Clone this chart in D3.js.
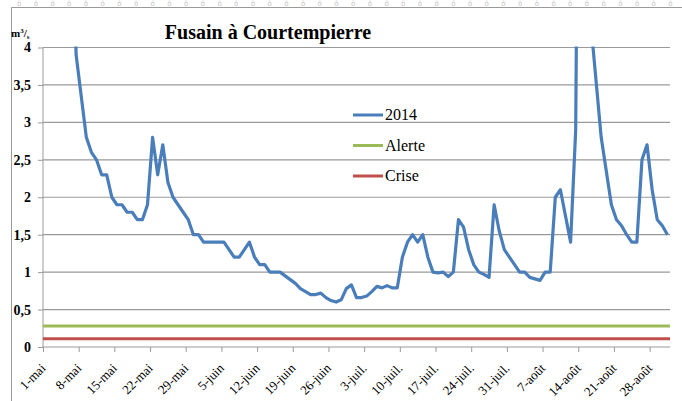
<!DOCTYPE html>
<html>
<head>
<meta charset="utf-8">
<script src="https://cdn.jsdelivr.net/npm/d3@7"></script>
<style>
  body { margin: 0; background: #fff; }
  svg { display: block; font-family: "Liberation Serif", "Times New Roman", serif; }
</style>
</head>
<body>
<svg id="chart" width="682" height="401"></svg>
<script>
// daily flow, 1 May -> 31 Aug 2014 (values above 4 are clipped by the axis)
var flow2014 = [
  8.0, 9.0, 8.5, 7.5, 6.8, 6.0, 3.9, 3.35, 2.8, 2.6,
  2.5, 2.3, 2.3, 2.0, 1.9, 1.9, 1.8, 1.8, 1.7, 1.7,
  1.9, 2.8, 2.3, 2.7, 2.2, 2.0, 1.9, 1.8, 1.7, 1.5,
  1.5, 1.4, 1.4, 1.4, 1.4, 1.4, 1.3, 1.2, 1.2, 1.3,
  1.4, 1.2, 1.1, 1.1, 1.0, 1.0, 1.0, 0.95, 0.9, 0.85,
  0.78, 0.74, 0.7, 0.7, 0.72, 0.66, 0.62, 0.6, 0.63, 0.78,
  0.83, 0.66, 0.66, 0.68, 0.74, 0.81, 0.79, 0.82, 0.79, 0.79,
  1.2, 1.4, 1.5, 1.4, 1.5, 1.2, 1.0, 0.99, 1.0, 0.94,
  1.0, 1.7, 1.6, 1.3, 1.1, 1.0, 0.97, 0.93, 1.9, 1.55,
  1.3, 1.2, 1.1, 1.0, 1.0, 0.93, 0.91, 0.89, 1.0, 1.0,
  2.0, 2.1, 1.75, 1.4, 2.9, 12.0, 9.0, 4.3, 3.55, 2.8,
  2.35, 1.9, 1.7, 1.62, 1.5, 1.4, 1.4, 2.5, 2.7, 2.1,
  1.7, 1.62, 1.5
];
var alerte = 0.28;
var crise = 0.11;
var yTicks = [0, 0.5, 1, 1.5, 2, 2.5, 3, 3.5, 4];
var tickLabels = ["1-mai", "8-mai", "15-mai", "22-mai", "29-mai", "5-juin", "12-juin", "19-juin",
  "26-juin", "3-juil.", "10-juil.", "17-juil.", "24-juil.", "31-juil.", "7-août", "14-août",
  "21-août", "28-août"];
var seriesNames = ["2014", "Alerte", "Crise"];
var seriesColors = ["#4a7ebb", "#9bbb59", "#c0504d"];

(function () {
  var svg = d3.select("#chart");
  var serif = "'Liberation Serif', 'Times New Roman', serif";
  var pLeft = 43, pRight = 670, pTop = 47.5, pBottom = 347;
  var start = new Date(2014, 4, 1);
  var days = flow2014.map(function (v, i) { return d3.timeDay.offset(start, i); });

  var x = d3.scaleTime()
    .domain([start, d3.timeDay.offset(start, flow2014.length)])
    .range([pLeft, pRight]);
  var y = d3.scaleLinear().domain([0, 4]).range([pBottom, pTop]);
  var mid = function (d) { return x(d) + (x(d3.timeDay.offset(d, 1)) - x(d)) / 2; };

  // top strip + frame
  var strip = svg.append("g");
  for (var sx = 17; sx < 682; sx += 16.7) {
    strip.append("text").attr("x", sx).attr("y", 6).attr("font-size", 7)
      .attr("fill", "#c4c4c4").attr("font-family", "DejaVu Sans").text("ô");
  }
  svg.append("path").attr("d", "M11.5,401V7.5H682").attr("fill", "none").attr("stroke", "#9a9a9a");

  // gridlines
  svg.append("g").selectAll("line").data(yTicks.filter(function (t) { return t > 0; }))
    .enter().append("line")
    .attr("x1", pLeft).attr("x2", pRight)
    .attr("y1", function (d) { return y(d); }).attr("y2", function (d) { return y(d); })
    .attr("stroke", "#9a9a9a").attr("stroke-width", 1.2);

  // y axis
  var yAxis = svg.append("g").attr("transform", "translate(" + pLeft + ",0)")
    .call(d3.axisLeft(y).tickValues(yTicks).tickSize(5).tickPadding(7)
      .tickFormat(function (d) { return String(d).replace(".", ","); }));
  yAxis.attr("font-family", serif);
  yAxis.select(".domain").attr("stroke", "#9a9a9a").attr("d", "M0," + pTop + "V" + pBottom);
  yAxis.selectAll(".tick line").attr("stroke", "#9a9a9a");
  yAxis.selectAll("text").attr("font-family", serif).attr("font-size", 14)
    .attr("font-weight", "bold").attr("fill", "#000");

  // x axis
  var xTickDates = tickLabels.map(function (t, i) { return d3.timeDay.offset(start, i * 7); });
  var xAxis = svg.append("g").attr("transform", "translate(0," + pBottom + ")")
    .call(d3.axisBottom(x).tickValues(xTickDates).tickSize(5)
      .tickFormat(function (d, i) { return tickLabels[i]; }));
  xAxis.attr("font-family", serif);
  xAxis.select(".domain").attr("stroke", "#9a9a9a").attr("d", "M" + pLeft + ",0H" + pRight);
  xAxis.selectAll(".tick line").attr("stroke", "#9a9a9a");
  xAxis.selectAll("text")
    .attr("font-family", serif).attr("font-size", 13).attr("fill", "#000")
    .attr("text-anchor", "end").attr("dy", null).attr("y", null)
    .attr("transform", "translate(3,22) rotate(-45)");

  // threshold lines
  svg.append("line").attr("x1", pLeft).attr("x2", pRight).attr("y1", y(alerte)).attr("y2", y(alerte))
    .attr("stroke", seriesColors[1]).attr("stroke-width", 3);
  svg.append("line").attr("x1", pLeft).attr("x2", pRight).attr("y1", y(crise)).attr("y2", y(crise))
    .attr("stroke", seriesColors[2]).attr("stroke-width", 3);

  // flow line, clipped to plot area
  svg.append("clipPath").attr("id", "plot").append("rect")
    .attr("x", pLeft).attr("y", pTop - 1).attr("width", pRight - pLeft).attr("height", pBottom - pTop + 2);
  svg.append("path").datum(flow2014)
    .attr("clip-path", "url(#plot)")
    .attr("fill", "none").attr("stroke", seriesColors[0]).attr("stroke-width", 3.2)
    .attr("stroke-linejoin", "round")
    .attr("d", d3.line().x(function (d, i) { return mid(days[i]); }).y(function (d) { return y(d); }));

  // legend
  var lg = svg.append("g").selectAll("g").data(seriesNames).enter().append("g")
    .attr("transform", function (d, i) { return "translate(353," + (115 + i * 30.5) + ")"; });
  lg.append("line").attr("x1", 0).attr("x2", 30)
    .attr("stroke", function (d, i) { return seriesColors[i]; }).attr("stroke-width", 3);
  lg.append("text").attr("x", 32).attr("y", 5).attr("font-size", 16).attr("fill", "#000")
    .attr("font-family", serif)
    .text(function (d) { return d; });

  // title + unit
  svg.append("text").attr("x", 268).attr("y", 39).attr("text-anchor", "middle")
    .attr("font-family", serif)
    .attr("font-size", 20).attr("font-weight", "bold").text("Fusain à Courtempierre");
  var unit = svg.append("text").attr("x", 11).attr("y", 37).attr("font-size", 11)
    .attr("font-family", serif).attr("font-weight", "bold");
  unit.append("tspan").text("m");
  unit.append("tspan").attr("font-size", 7).attr("dy", -4).text("3");
  unit.append("tspan").attr("dy", 4).text("/");
  unit.append("tspan").attr("font-size", 7).attr("dy", 2).text("s");
})();
</script>
</body>
</html>
